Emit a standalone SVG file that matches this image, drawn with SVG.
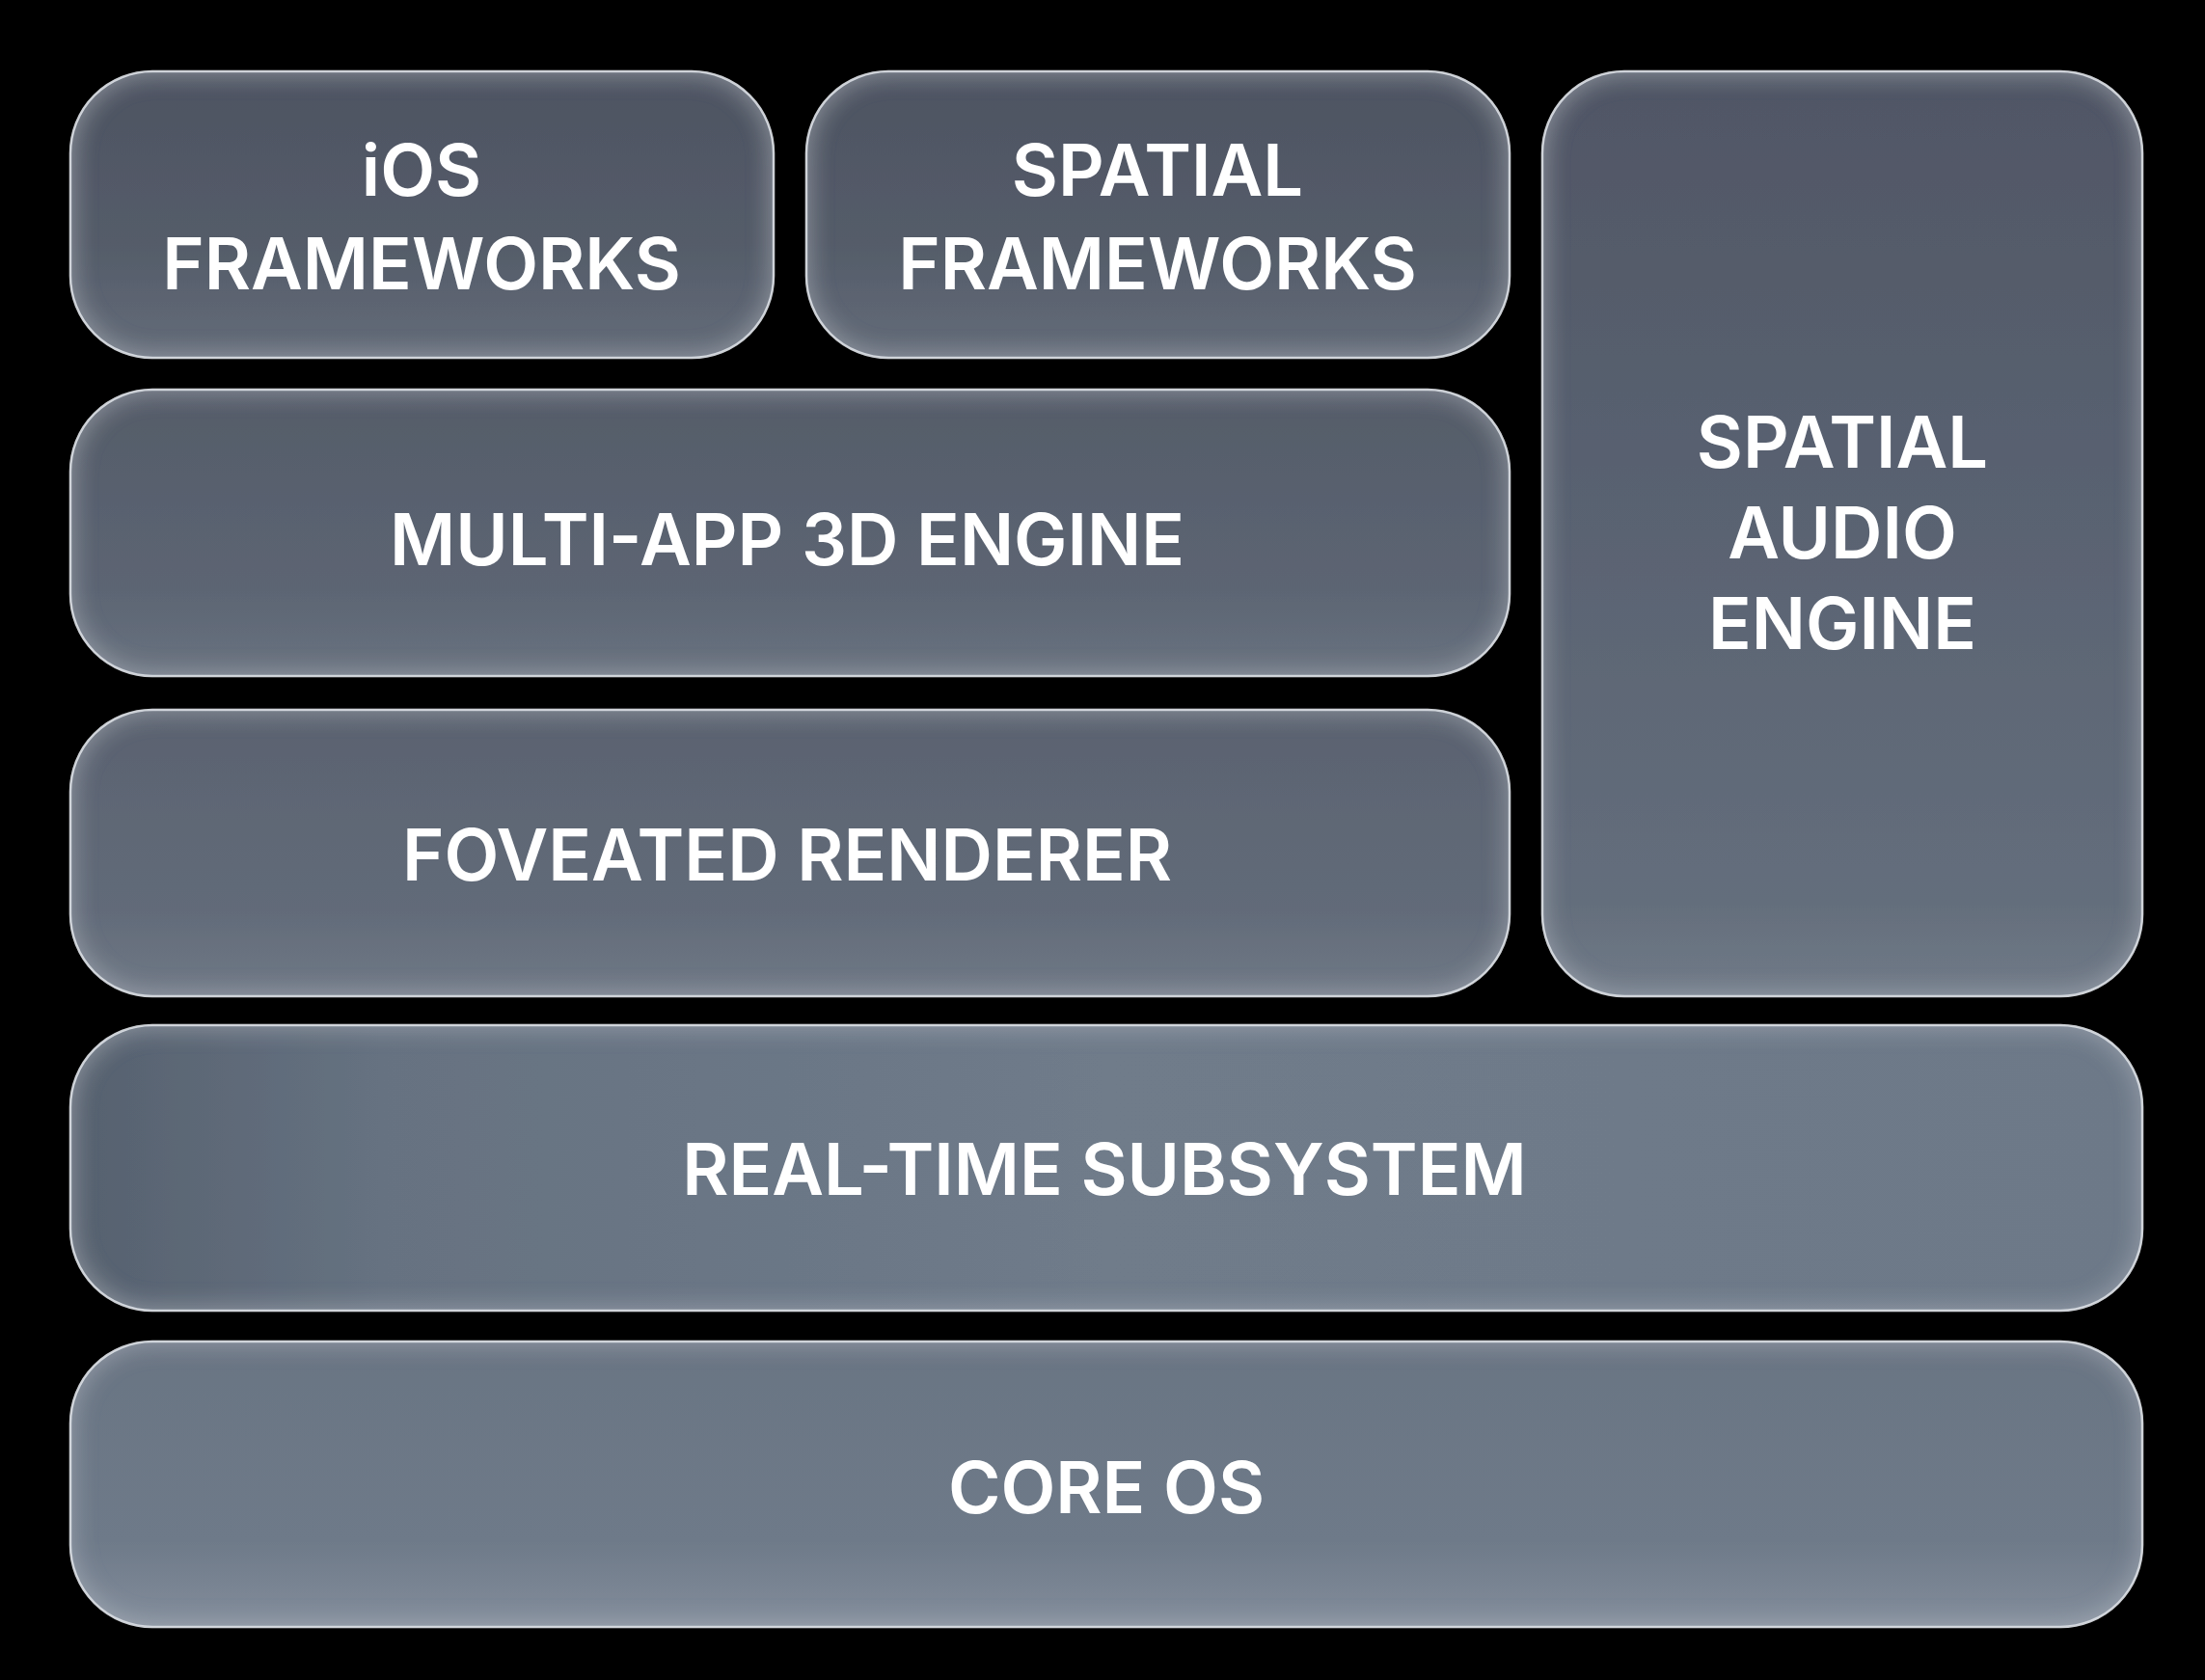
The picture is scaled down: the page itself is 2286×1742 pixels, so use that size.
<svg xmlns="http://www.w3.org/2000/svg" width="2286" height="1742" viewBox="0 0 2286 1742">
<defs>
<style>
.box{stroke:#e2e5ea;stroke-width:2.5;stroke-opacity:0.9;filter:url(#ig)}
.lbl{font-family:Inter,"Liberation Sans",sans-serif;font-weight:600;font-size:74px;fill:#ffffff;text-anchor:middle}
</style>
<linearGradient id="gTop" x1="0" y1="0" x2="0" y2="1">
<stop offset="0" stop-color="#4e5462"/>
<stop offset="0.6" stop-color="#545c69"/>
<stop offset="1" stop-color="#646c79"/>
</linearGradient>
<linearGradient id="gMid" x1="0" y1="0" x2="0" y2="1">
<stop offset="0" stop-color="#555c69"/>
<stop offset="0.7" stop-color="#5c6573"/>
<stop offset="1" stop-color="#6a7380"/>
</linearGradient>
<linearGradient id="gFov" x1="0" y1="0" x2="0" y2="1">
<stop offset="0" stop-color="#5a6270"/>
<stop offset="0.7" stop-color="#626b79"/>
<stop offset="1" stop-color="#707986"/>
</linearGradient>
<linearGradient id="gAud" x1="0" y1="0" x2="0" y2="1">
<stop offset="0" stop-color="#505665"/>
<stop offset="0.5" stop-color="#5a6372"/>
<stop offset="0.9" stop-color="#646e7c"/>
<stop offset="1" stop-color="#717b88"/>
</linearGradient>
<linearGradient id="gRt" x1="0" y1="0" x2="1" y2="0">
<stop offset="0" stop-color="#56616f"/>
<stop offset="0.15" stop-color="#667281"/>
<stop offset="0.5" stop-color="#6f7b8a"/>
<stop offset="1" stop-color="#6d7988"/>
</linearGradient>
<linearGradient id="gCore" x1="0" y1="0" x2="0" y2="1">
<stop offset="0" stop-color="#6a7583"/>
<stop offset="0.7" stop-color="#6e7a89"/>
<stop offset="1" stop-color="#838d9b"/>
</linearGradient>
<filter id="ig" x="-5%" y="-5%" width="110%" height="110%">
<feGaussianBlur in="SourceAlpha" stdDeviation="14" result="b"/>
<feComposite in="SourceAlpha" in2="b" operator="out" result="edge"/>
<feFlood flood-color="#c8ced8" flood-opacity="0.4"/>
<feComposite in2="edge" operator="in" result="glow"/>
<feMerge><feMergeNode in="SourceGraphic"/><feMergeNode in="glow"/></feMerge>
</filter>
</defs>
<rect x="0" y="0" width="2286" height="1742" fill="#000000"/>
<g id="ios-frameworks">
<rect class="box" x="73" y="74" width="729" height="297" rx="85" fill="url(#gTop)"/>
<text class="lbl" x="437" y="203">iOS</text>
<text class="lbl" x="437" y="300">FRAMEWORKS</text>
</g>
<g id="spatial-frameworks">
<rect class="box" x="836" y="74" width="729" height="297" rx="85" fill="url(#gTop)"/>
<text class="lbl" x="1200" y="203">SPATIAL</text>
<text class="lbl" x="1200" y="300">FRAMEWORKS</text>
</g>
<g id="spatial-audio-engine">
<rect class="box" x="1599" y="74" width="622" height="959" rx="85" fill="url(#gAud)"/>
<text class="lbl" x="1910" y="485">SPATIAL</text>
<text class="lbl" x="1910" y="579">AUDIO</text>
<text class="lbl" x="1910" y="673">ENGINE</text>
</g>
<g id="multi-app-3d-engine">
<rect class="box" x="73" y="404" width="1492" height="297" rx="85" fill="url(#gMid)"/>
<text class="lbl" x="816" y="586">MULTI-APP 3D ENGINE</text>
</g>
<g id="foveated-renderer">
<rect class="box" x="73" y="736" width="1492" height="297" rx="85" fill="url(#gFov)"/>
<text class="lbl" x="816" y="913">FOVEATED RENDERER</text>
</g>
<g id="real-time-subsystem">
<rect class="box" x="73" y="1063" width="2148" height="296" rx="85" fill="url(#gRt)"/>
<text class="lbl" x="1145" y="1239">REAL-TIME SUBSYSTEM</text>
</g>
<g id="core-os">
<rect class="box" x="73" y="1391" width="2148" height="296" rx="85" fill="url(#gCore)"/>
<text class="lbl" x="1147" y="1569">CORE OS</text>
</g>
<g id="connectors"></g>
</svg>
